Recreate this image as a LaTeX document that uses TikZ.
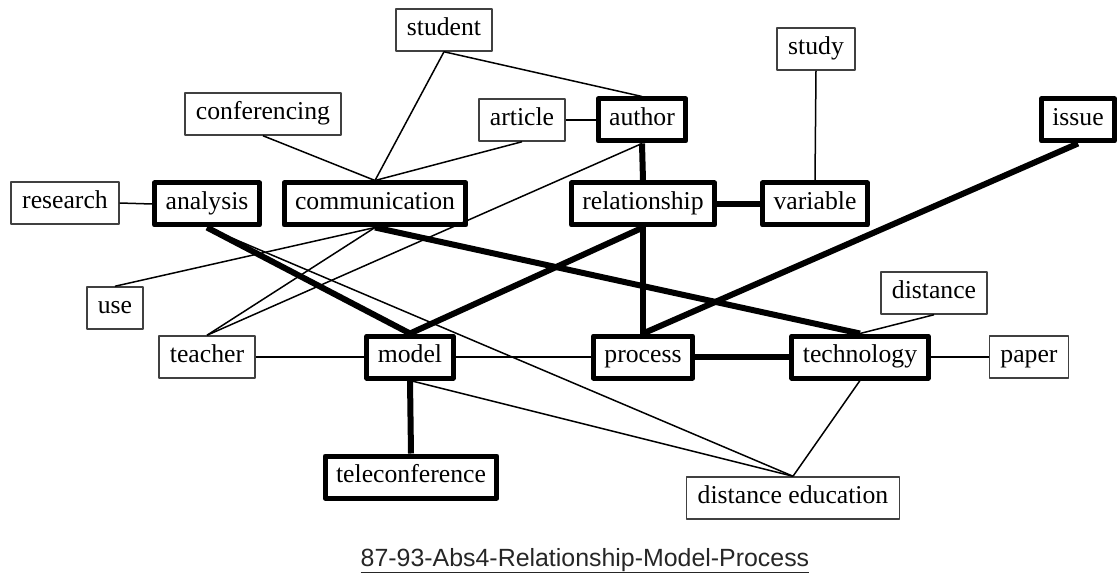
\documentclass[tikz,border=0pt]{standalone}
\usepackage{fontspec}
\setmainfont{Liberation Serif}
\newfontfamily\capfont{Liberation Sans}
\begin{document}
\begin{tikzpicture}[x=1bp,y=-1bp,line join=round,font=\fontsize{25.8}{30}\selectfont,
	term/.style={draw=black!75,line width=1.5bp,inner xsep=11bp,inner ysep=0pt,minimum height=42bp,text height=17pt,text depth=6pt},
	keyterm/.style={term,draw=black,line width=5bp},
	weak/.style={line width=1.5bp},
	strong/.style={line width=6bp}]
	\useasboundingbox (0,0) rectangle (1118,575);
	% terms
	\node[term] (student) at (444,30) {student};
	\node[term] (conf) at (263,114) {conferencing};
	\node[term] (article) at (522,120) {article};
	\node[keyterm] (author) at (642,120) {author};
	\node[term] (study) at (816,49) {study};
	\node[keyterm] (issue) at (1078,120) {issue};
	\node[term] (research) at (65,203) {research};
	\node[keyterm] (analysis) at (207,204) {analysis};
	\node[keyterm] (comm) at (375,204) {communication};
	\node[keyterm] (relation) at (643,204) {relationship};
	\node[keyterm] (variable) at (815,204) {variable};
	\node[term] (use) at (115,308) {use};
	\node[term] (distance) at (934,293) {distance};
	\node[term] (teacher) at (207,357) {teacher};
	\node[keyterm] (model) at (410,357) {model};
	\node[keyterm] (process) at (643,357) {process};
	\node[keyterm] (tech) at (860,357) {technology};
	\node[term] (paper) at (1029,357) {paper};
	\node[keyterm] (telecon) at (411,477) {teleconference};
	\node[term] (distedu) at (793,498) {distance education};
	% links
	\foreach \a/\b in {student/comm,student/author,conf/comm,article/comm,author/teacher,comm/use,comm/teacher,analysis/distedu,model/distedu,tech/distedu,distance/tech,study/variable}\draw[weak] (\a.south)--(\b.north);
	\foreach \a/\b in {research/analysis,article/author,teacher/model,model/process,tech/paper}\draw[weak] (\a.east)--(\b.west);
	\foreach \a/\b in {author/relation,analysis/model,relation/model,relation/process,comm/tech,issue/process,model/telecon}\draw[strong] (\a.south)--(\b.north);
	\foreach \a/\b in {relation/variable,process/tech}\draw[strong] (\a.east)--(\b.west);
	\node[anchor=base,text=black!85,font=\capfont\fontsize{25}{30}\selectfont] (title) at (585,566) {\underline{87-93-Abs4-Relationship-Model-Process}};
\end{tikzpicture}
\end{document}
